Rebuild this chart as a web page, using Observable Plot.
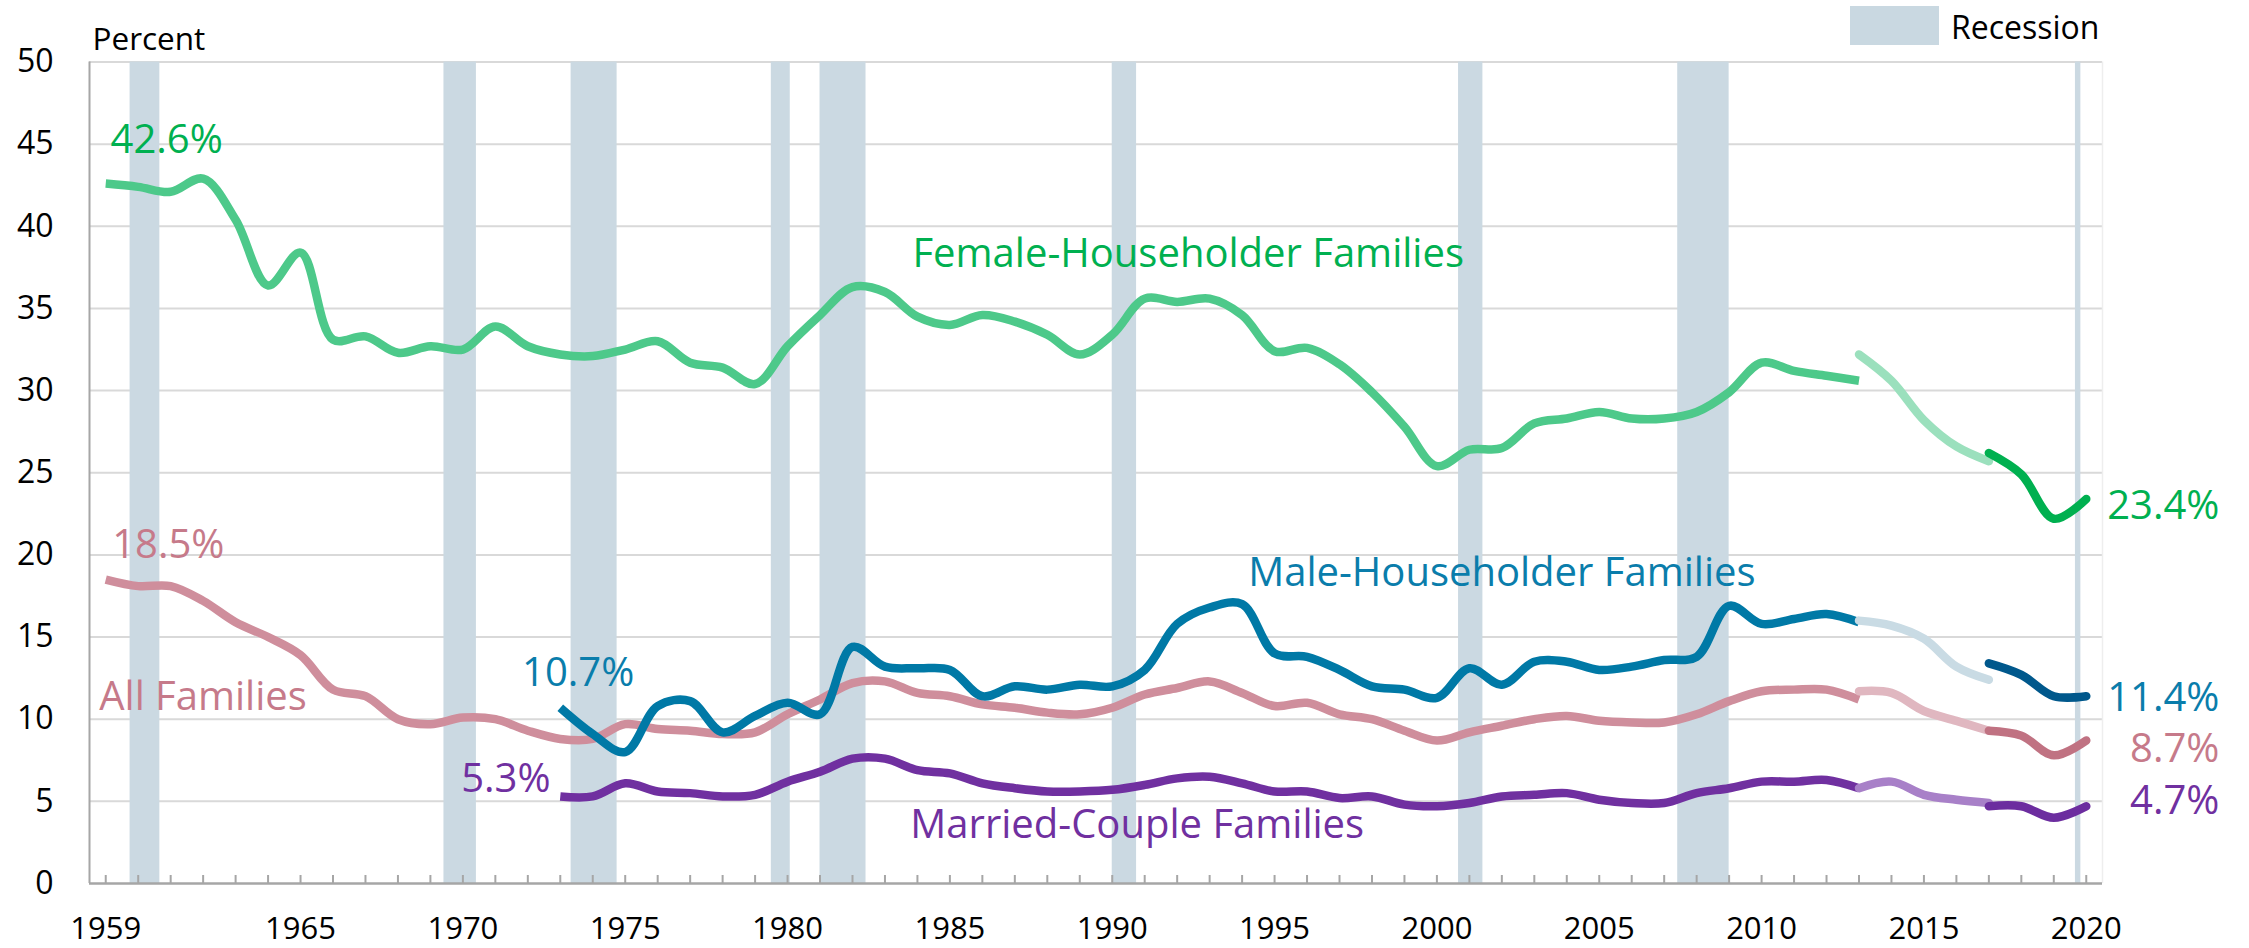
<!DOCTYPE html>
<html>
<head>
<meta charset="utf-8">
<script src="https://cdn.jsdelivr.net/npm/d3@7"></script>
<script src="https://cdn.jsdelivr.net/npm/@observablehq/plot@0.6"></script>
<style>
  html, body { margin: 0; padding: 0; background: #fff; }
  #wrap { position: relative; width: 2249px; height: 948px; font-family: "Open Sans", sans-serif; }
  #legend { position: absolute; left: 1850px; top: 6px; height: 39px; display: flex; align-items: center; }
  #legend .sw { width: 89px; height: 39px; background: #c9d8e1; }
  #legend .lb { margin-left: 12px; font-size: 32px; color: #000; line-height: 39px; position: relative; top: 1px; }
</style>
</head>
<body>
<div id="wrap">
  <div id="chart"></div>
  <div id="legend"><div class="sw"></div><div class="lb">Recession</div></div>
</div>
<script>
// ---------- DATA ----------
const yearsFrom1959 = d3.range(1959, 2014);   // 1959..2013
const yearsFrom1973 = d3.range(1973, 2014);   // 1973..2013
const years2013to2017 = [2013, 2014, 2015, 2016, 2017];
const years2017to2020 = [2017, 2018, 2019, 2020];

const femaleHH_1959_2013 = [42.6, 42.4, 42.1, 42.9, 40.4, 36.4, 38.4, 33.1, 33.3, 32.3,
  32.7, 32.5, 33.9, 32.7, 32.2, 32.1, 32.5, 33.0, 31.7, 31.4,
  30.4, 32.7, 34.6, 36.3, 36.0, 34.5, 34.0, 34.6, 34.2, 33.4,
  32.2, 33.4, 35.6, 35.4, 35.6, 34.6, 32.4, 32.6, 31.6, 29.9,
  27.8, 25.4, 26.4, 26.5, 28.0, 28.3, 28.7, 28.3, 28.3, 28.7,
  29.9, 31.7, 31.2, 30.9, 30.6];
const femaleHH_2013_2017 = [32.2, 30.6, 28.2, 26.6, 25.7];
const femaleHH_2017_2020 = [26.2, 24.9, 22.2, 23.4];

const allFamilies_1959_2013 = [18.5, 18.1, 18.1, 17.2, 15.9, 15.0, 13.9, 11.8, 11.4, 10.0,
  9.7, 10.1, 10.0, 9.3, 8.8, 8.8, 9.7, 9.4, 9.3, 9.1,
  9.2, 10.3, 11.2, 12.2, 12.3, 11.6, 11.4, 10.9, 10.7, 10.4,
  10.3, 10.7, 11.5, 11.9, 12.3, 11.6, 10.8, 11.0, 10.3, 10.0,
  9.3, 8.7, 9.2, 9.6, 10.0, 10.2, 9.9, 9.8, 9.8, 10.3,
  11.1, 11.7, 11.8, 11.8, 11.2];
const allFamilies_2013_2017 = [11.7, 11.6, 10.5, 9.9, 9.3];
const allFamilies_2017_2020 = [9.3, 9.0, 7.8, 8.7];

const maleHH_1973_2013 = [10.7, 9.1, 8.0, 10.8, 11.1, 9.2, 10.2, 11.0, 10.3, 14.4,
  13.2, 13.1, 13.0, 11.4, 12.0, 11.8, 12.1, 12.0, 13.0, 15.8,
  16.8, 17.0, 14.0, 13.8, 13.0, 12.0, 11.8, 11.3, 13.1, 12.1,
  13.5, 13.5, 13.0, 13.2, 13.6, 13.8, 16.9, 15.8, 16.1, 16.4,
  15.9];
const maleHH_2013_2017 = [16.0, 15.7, 14.9, 13.2, 12.4];
const maleHH_2017_2020 = [13.4, 12.7, 11.4, 11.4];

const married_1973_2013 = [5.3, 5.3, 6.1, 5.6, 5.5, 5.3, 5.4, 6.2, 6.8, 7.6,
  7.6, 6.9, 6.7, 6.1, 5.8, 5.6, 5.6, 5.7, 6.0, 6.4,
  6.5, 6.1, 5.6, 5.6, 5.2, 5.3, 4.8, 4.7, 4.9, 5.3,
  5.4, 5.5, 5.1, 4.9, 4.9, 5.5, 5.8, 6.2, 6.2, 6.3,
  5.8];
const married_2013_2017 = [5.8, 6.2, 5.4, 5.1, 4.9];
const married_2017_2020 = [4.7, 4.7, 4.0, 4.7];

const recessionStart = ["1960-04", "1969-12", "1973-11", "1980-01", "1981-07", "1990-07", "2001-03", "2007-12", "2020-03"];
const recessionEnd   = ["1961-02", "1970-11", "1975-03", "1980-07", "1982-11", "1991-03", "2001-11", "2009-06", "2020-04"];

const yTickValues = [0, 5, 10, 15, 20, 25, 30, 35, 40, 45, 50];
const xTickLabels = [1959, 1965, 1970, 1975, 1980, 1985, 1990, 1995, 2000, 2005, 2010, 2015, 2020];
const xMinorTicks = d3.range(1959, 2021);

// annotation texts with anchor in data units (year, percent at text baseline)
const annotations = [
  {text: "42.6%", year: 1959.15, pct: 44.45, anchor: "start", color: "#00b050"},
  {text: "Female-Householder Families", year: 1992.34, pct: 37.55, anchor: "middle", color: "#00b050"},
  {text: "23.4%", year: 2024.1, pct: 22.18, anchor: "end", color: "#00b050"},
  {text: "18.5%", year: 1959.2, pct: 19.84, anchor: "start", color: "#c67a8a"},
  {text: "All Families", year: 1958.8, pct: 10.56, anchor: "start", color: "#c67a8a"},
  {text: "8.7%", year: 2024.1, pct: 7.38, anchor: "end", color: "#c67a8a"},
  {text: "10.7%", year: 1973.55, pct: 12.04, anchor: "middle", color: "#0a7dab"},
  {text: "Male-Householder Families", year: 2002.0, pct: 18.13, anchor: "middle", color: "#0a7dab"},
  {text: "11.4%", year: 2024.1, pct: 10.52, anchor: "end", color: "#0a7dab"},
  {text: "5.3%", year: 1972.7, pct: 5.55, anchor: "end", color: "#7030a0"},
  {text: "Married-Couple Families", year: 1990.77, pct: 2.74, anchor: "middle", color: "#7030a0"},
  {text: "4.7%", year: 2024.1, pct: 4.2, anchor: "end", color: "#7030a0"}
];

// ---------- BUILD ----------
const W = 2249, H = 948;
const mTop = 61.5, mRight = 147, mBottom = 65, mLeft = 89;
const xDomain = [1958.5, 2020.5];

const toRows = (years, values) => years.map((y, i) => ({year: y, value: values[i]}));
const series = [
  {segs: [[yearsFrom1959, allFamilies_1959_2013], [years2013to2017, allFamilies_2013_2017], [years2017to2020, allFamilies_2017_2020]],
   colors: ["#cf8e9c", "#e0b7c0", "#c07282"]},
  {segs: [[yearsFrom1973, maleHH_1973_2013], [years2013to2017, maleHH_2013_2017], [years2017to2020, maleHH_2017_2020]],
   colors: ["#0079a6", "#c9dbe4", "#00588c"]},
  {segs: [[yearsFrom1973, married_1973_2013], [years2013to2017, married_2013_2017], [years2017to2020, married_2017_2020]],
   colors: ["#7030a0", "#a880c8", "#6c2d9f"]},
  {segs: [[yearsFrom1959, femaleHH_1959_2013], [years2013to2017, femaleHH_2013_2017], [years2017to2020, femaleHH_2017_2020]],
   colors: ["#4dc98a", "#9be0bd", "#00b050"]}
];

const ym = s => +s.slice(0, 4) + (+s.slice(5) - 1) / 12;
const recessions = recessionStart.map((s, i) => ({
  x1: ym(s) - 0.5,
  x2: ym(recessionEnd[i]) + 1 / 12 - 0.5
}));

const lineMarks = [];
for (const s of series) {
  s.segs.forEach(([yrs, vals], k) => {
    lineMarks.push(Plot.line(toRows(yrs, vals), {
      x: "year", y: "value", stroke: s.colors[k], strokeWidth: 8.5,
      curve: "catmull-rom", strokeLinecap: k === 0 ? "butt" : "round"
    }));
  });
}

const textMarks = ["start", "middle", "end"].map(a =>
  Plot.text(annotations.filter(d => d.anchor === a), {
    x: "year", y: "pct", text: "text", fill: "color",
    textAnchor: a, lineAnchor: "bottom", fontSize: 40
  })
);

const plotH = H - mTop - mBottom;

const chart = Plot.plot({
  width: W, height: H,
  marginTop: mTop, marginRight: mRight, marginBottom: mBottom, marginLeft: mLeft,
  style: {fontFamily: "'Open Sans', sans-serif", color: "#000", background: "#fff", overflow: "visible"},
  x: {domain: xDomain, label: null},
  y: {domain: [0, 50], label: null},
  marks: [
    Plot.ruleY(yTickValues.filter(v => v > 0), {stroke: "#d9d9d9", strokeWidth: 2}),
    Plot.ruleX([xDomain[1]], {stroke: "#eeeeee", strokeWidth: 1.5}),
    Plot.rect(recessions, {x1: "x1", x2: "x2", fill: "#cbd9e2"}),
    Plot.ruleY([0], {stroke: "#a6a6a6", strokeWidth: 2.5}),
    Plot.ruleX([xDomain[0]], {stroke: "#a6a6a6", strokeWidth: 2}),
    Plot.tickX(xMinorTicks, {x: d => d, stroke: "#a6a6a6", strokeWidth: 2, insetTop: plotH - 8}),
    Plot.axisY({ticks: yTickValues, tickSize: 0, tickPadding: 36, fontSize: 32, fill: "#000", label: null}),
    Plot.axisX({ticks: xTickLabels, tickSize: 0, tickPadding: 33, fontSize: 31, fill: "#000", label: null, tickFormat: d3.format("d")}),
    Plot.text(["Percent"], {frameAnchor: "top-left", text: d => d, dx: 3, dy: -12.5, lineAnchor: "bottom", textAnchor: "start", fontSize: 31.5, fill: "#000"}),
    ...lineMarks,
    ...textMarks
  ]
});
document.getElementById("chart").appendChild(chart);
</script>
</body>
</html>
